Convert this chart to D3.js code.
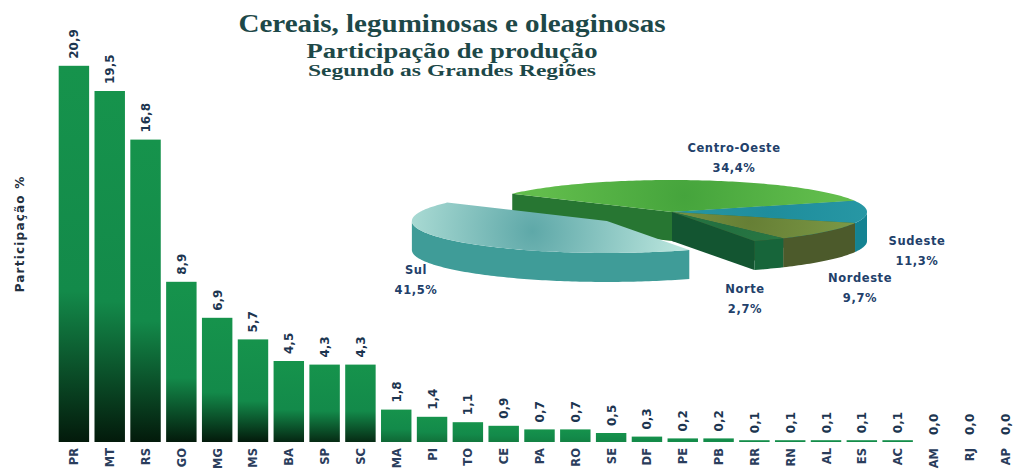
<!DOCTYPE html>
<html>
<head>
<meta charset="utf-8">
<script src="https://cdn.jsdelivr.net/npm/d3@7"></script>
<style>
  body { margin: 0; background: #fff; }
</style>
</head>
<body>
<script>
// chart size
var w = 1013, h = 476;

// data: share of production by state (%)
var states = ["PR","MT","RS","GO","MG","MS","BA","SP","SC","MA","PI","TO","CE","PA","RO","SE","DF","PE","PB","RR","RN","AL","ES","AC","AM","RJ","AP"];
var shares = [20.9,19.5,16.8,8.9,6.9,5.7,4.5,4.3,4.3,1.8,1.4,1.1,0.9,0.7,0.7,0.5,0.3,0.2,0.2,0.1,0.1,0.1,0.1,0.1,0.0,0.0,0.0];

// data: share by great region (%)
var regions = ["Sul","Centro-Oeste","Sudeste","Nordeste","Norte"];
var regionShares = [41.5,34.4,11.3,9.7,2.7];

var titleLines = ["Cereais, leguminosas e oleaginosas", "Participação de produção", "Segundo as Grandes Regiões"];
var yTitle = "Participação %";

var fmt = function(v){ return d3.format(".1f")(v).replace(".", ","); };

var svg = d3.select("body")
    .append("svg")
    .attr("width", w)
    .attr("height", h);

var defs = svg.append("defs");

// ---------- bars ----------
var x = d3.scaleBand()
    .domain(states)
    .range([56, 1023])
    .paddingInner(0.15)
    .paddingOuter(0.075);

var y = d3.scaleLinear()
    .domain([0, 22])
    .range([442, 46]);

var darkScale = d3.interpolateRgb("#16934c", "#031a0b");

shares.forEach(function(d, i){
    var bh = y(0) - y(d);
    var g = defs.append("linearGradient")
        .attr("id", "bar" + i)
        .attr("x1", 0).attr("y1", 0).attr("x2", 0).attr("y2", 1);
    g.append("stop").attr("offset", 0).attr("stop-color", "#16934c");
    g.append("stop").attr("offset", 0.6).attr("stop-color", "#138a4a");
    g.append("stop").attr("offset", 1).attr("stop-color", darkScale(Math.min(1, bh / 90)));
});

svg.selectAll(".bar")
    .data(shares)
    .enter()
    .append("rect")
    .attr("class", "bar")
    .attr("x", function(d, i){ return x(states[i]); })
    .attr("y", function(d){ return y(d); })
    .attr("width", x.bandwidth())
    .attr("height", function(d){ return y(0) - y(d); })
    .attr("fill", function(d, i){ return "url(#bar" + i + ")"; });

// value labels, rotated
svg.selectAll(".val")
    .data(shares)
    .enter()
    .append("text")
    .attr("class", "val")
    .attr("transform", function(d, i){
        return "translate(" + (x(states[i]) + x.bandwidth() / 2 + 4.5) + "," + (y(d) - 7) + ") rotate(-90)";
    })
    .attr("font-family", "DejaVu Sans, sans-serif")
    .attr("font-weight", "bold")
    .attr("font-size", 12)
    .attr("fill", "#1c3550")
    .text(function(d){ return fmt(d); });

// category labels, rotated
svg.selectAll(".cat")
    .data(states)
    .enter()
    .append("text")
    .attr("class", "cat")
    .attr("transform", function(d){
        return "translate(" + (x(d) + x.bandwidth() / 2 + 4.5) + ",448) rotate(-90)";
    })
    .attr("text-anchor", "end")
    .attr("font-family", "DejaVu Sans, sans-serif")
    .attr("font-weight", "bold")
    .attr("font-size", 11.5)
    .attr("fill", "#2a3d5c")
    .text(function(d){ return d; });

// y axis title
svg.append("text")
    .attr("transform", "translate(24,234) rotate(-90)")
    .attr("text-anchor", "middle")
    .attr("font-family", "DejaVu Sans, sans-serif")
    .attr("font-weight", "bold")
    .attr("font-size", 12)
    .attr("letter-spacing", 1.2)
    .attr("fill", "#22303f")
    .text(yTitle);

// ---------- titles ----------
var titleStyle = [
    {y: 32, size: 26, len: 427},
    {y: 58, size: 20, len: 291},
    {y: 76, size: 16, len: 288}
];
svg.selectAll(".title")
    .data(titleLines)
    .enter()
    .append("text")
    .attr("class", "title")
    .attr("x", 452)
    .attr("y", function(d, i){ return titleStyle[i].y; })
    .attr("text-anchor", "middle")
    .attr("textLength", function(d, i){ return titleStyle[i].len; })
    .attr("lengthAdjust", "spacingAndGlyphs")
    .attr("font-family", "Liberation Serif, Times New Roman, serif")
    .attr("font-weight", "bold")
    .attr("font-size", function(d, i){ return titleStyle[i].size; })
    .attr("fill", "#1d4848")
    .text(function(d){ return d; });

// ---------- 3D pie ----------
var cx = 672, cy = 212, rx = 195, ry = 32, depth = 29;
var rad = Math.PI / 180;

var pie = d3.pie().sort(null)
    .startAngle(155 * rad)
    .endAngle(155 * rad + 2 * Math.PI);
var arcs = pie(regionShares);

var sliceStyle = {
    "Sul":          {top: ["#b8e4dc", "#5ea8a8"], side: "#3f9c98", explode: 85},
    "Centro-Oeste": {top: ["#62bd4c", "#45a43c"], side: "#2f8d3c", explode: 0},
    "Sudeste":      {top: ["#2c9ca8", "#1e8d9c"], side: "#148392", explode: 0},
    "Nordeste":     {top: ["#84a24c", "#667f35"], side: "#4c5a2b", explode: 0},
    "Norte":        {top: ["#2f8248", "#237040"], side: "#17653a", explode: 0}
};

var labelPos = {
    "Sul": [416, 274],
    "Centro-Oeste": [734, 152],
    "Sudeste": [917, 245],
    "Nordeste": [860, 282],
    "Norte": [745, 293]
};

function pt(c, a, dz){
    return [c[0] + rx * Math.sin(a), c[1] - ry * Math.cos(a) + (dz || 0)];
}
function arcPts(c, a0, a1, dz){
    var n = Math.max(2, Math.ceil((a1 - a0) / 0.02));
    return d3.range(n + 1).map(function(k){ return pt(c, a0 + (a1 - a0) * k / n, dz); });
}
var line = d3.line();

arcs.forEach(function(d, i){
    var st = sliceStyle[regions[i]];
    var mid = (d.startAngle + d.endAngle) / 2;
    d.name = regions[i];
    d.style = st;
    d.c = [cx + st.explode * Math.sin(mid), cy - st.explode * Math.cos(mid) * ry / rx];
    var g = defs.append("radialGradient")
        .attr("id", "top" + i)
        .attr("gradientUnits", "userSpaceOnUse")
        .attr("cx", d.c[0] + rx * 0.5 * Math.sin(mid))
        .attr("cy", d.c[1] - ry * 0.5 * Math.cos(mid))
        .attr("r", rx * 0.75);
    g.append("stop").attr("offset", 0).attr("stop-color", st.top[1]);
    g.append("stop").attr("offset", 1).attr("stop-color", st.top[0]);
});

var pieG = svg.append("g");

function drawSlices(list){
    // radial cut faces facing the viewer
    list.forEach(function(d){
        [[d.startAngle, d.startAngle - Math.PI / 2], [d.endAngle, d.endAngle + Math.PI / 2]].forEach(function(f){
            if (Math.cos(f[1]) < 0) {
                var p = pt(d.c, f[0]);
                pieG.append("path")
                    .attr("d", line([d.c, p, [p[0], p[1] + depth], [d.c[0], d.c[1] + depth]]) + "Z")
                    .attr("fill", d3.color(d.style.side).darker(0.5));
            }
        });
    });
    // outer walls on the front half (angles may run past 2*PI)
    list.forEach(function(d){
        [0, 2 * Math.PI].forEach(function(off){
            var lo = Math.max(d.startAngle, Math.PI / 2 + off), hi = Math.min(d.endAngle, 3 * Math.PI / 2 + off);
            if (lo < hi) {
                var pts = arcPts(d.c, lo, hi, 0).concat(arcPts(d.c, lo, hi, depth).reverse());
                pieG.append("path")
                    .attr("d", line(pts) + "Z")
                    .attr("fill", d.style.side);
            }
        });
    });
    // tops
    list.forEach(function(d){
        var pts = [d.c].concat(arcPts(d.c, d.startAngle, d.endAngle, 0));
        pieG.append("path")
            .attr("d", line(pts) + "Z")
            .attr("fill", "url(#top" + arcs.indexOf(d) + ")");
    });
}

drawSlices(arcs.filter(function(d){ return d.style.explode === 0; }));
drawSlices(arcs.filter(function(d){ return d.style.explode > 0; }));

// pie labels
var pieLabels = svg.selectAll(".plab")
    .data(arcs)
    .enter()
    .append("text")
    .attr("class", "plab")
    .attr("text-anchor", "middle")
    .attr("font-family", "DejaVu Sans, sans-serif")
    .attr("font-weight", "bold")
    .attr("font-size", 11.5)
    .attr("letter-spacing", 0.6)
    .attr("fill", "#22406a");
pieLabels.append("tspan")
    .attr("x", function(d){ return labelPos[d.name][0]; })
    .attr("y", function(d){ return labelPos[d.name][1]; })
    .text(function(d){ return d.name; });
pieLabels.append("tspan")
    .attr("x", function(d){ return labelPos[d.name][0]; })
    .attr("dy", 20)
    .text(function(d){ return fmt(d.data) + "%"; });
</script>
</body>
</html>
